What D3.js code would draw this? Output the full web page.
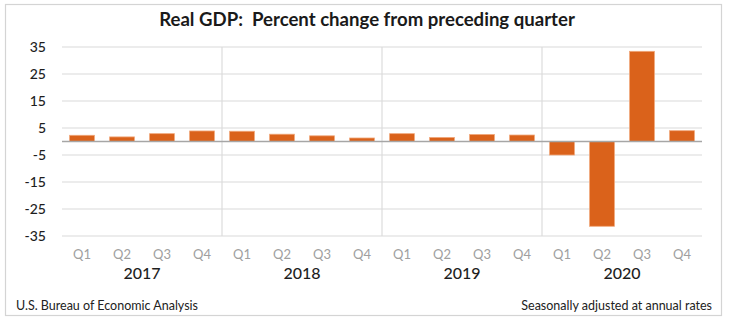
<!DOCTYPE html>
<html>
<head>
<meta charset="utf-8">
<script src="https://cdn.jsdelivr.net/npm/d3@7"></script>
<style>
  body { margin: 0; background: #fff; }
  svg text { font-family: Lato, "Open Sans", sans-serif; }
</style>
</head>
<body>
<div id="chart"></div>
<script>
// GDP quarterly change
var years = ["2017", "2018", "2019", "2020"];
var quarters = ["Q1", "Q2", "Q3", "Q4"];
var gdpChange = [2.3, 1.7, 2.9, 3.9, 3.8, 2.7, 2.1, 1.3, 2.9, 1.5, 2.6, 2.4, -5.0, -31.4, 33.4, 4.0];
var yTicks = [35, 25, 15, 5, -5, -15, -25, -35];

var width = 729, height = 321;
var plotLeft = 62, plotRight = 702, plotTop = 47, plotBottom = 236;

var svg = d3.select("#chart").append("svg")
    .attr("width", width)
    .attr("height", height);

// outer frame
svg.append("rect")
    .attr("x", 5.5).attr("y", 4.5)
    .attr("width", 716).attr("height", 311)
    .style("fill", "none")
    .style("stroke", "#d4d4d4")
    .style("stroke-width", 1.2);

var keys = [];
years.forEach(function(yr) {
    quarters.forEach(function(q) { keys.push(yr + "-" + q); });
});

var x = d3.scaleBand().domain(keys).range([plotLeft, plotRight]).paddingInner(0.38).paddingOuter(0.19);
var y = d3.scaleLinear().domain([-35, 35]).range([plotBottom, plotTop]);
var groupW = (plotRight - plotLeft) / 4;

// gridlines
svg.selectAll(".grid").data(yTicks).enter().append("line")
    .attr("x1", plotLeft).attr("x2", plotRight)
    .attr("y1", function(d) { return y(d); })
    .attr("y2", function(d) { return y(d); })
    .style("stroke", "#e6e6e6")
    .style("stroke-width", 1.5);

// year separators
svg.selectAll(".sep").data([1, 2, 3]).enter().append("line")
    .attr("x1", function(d) { return plotLeft + d * groupW; })
    .attr("x2", function(d) { return plotLeft + d * groupW; })
    .attr("y1", plotTop).attr("y2", plotBottom)
    .style("stroke", "#dcdcdc")
    .style("stroke-width", 1.2);

// y tick labels
svg.selectAll(".ylab").data(yTicks).enter().append("text")
    .attr("x", 46)
    .attr("y", function(d) { return y(d) + 5; })
    .attr("text-anchor", "end")
    .style("font-size", "14px")
    .style("font-weight", "500")
    .style("fill", "#1e1e1e")
    .text(function(d) { return d; });

// bars
svg.selectAll(".bar").data(gdpChange).enter().append("rect")
    .attr("x", function(d, i) { return x(keys[i]); })
    .attr("width", x.bandwidth())
    .attr("y", function(d) { return y(Math.max(0, d)); })
    .attr("height", function(d) { return Math.abs(y(d) - y(0)); })
    .style("fill", "#da621b")
    .style("stroke", "#f0a77a")
    .style("stroke-width", 0.8);

// zero line
svg.append("line")
    .attr("x1", plotLeft).attr("x2", plotRight)
    .attr("y1", y(0)).attr("y2", y(0))
    .style("stroke", "#a6a6a6")
    .style("stroke-width", 1.5);

// quarter labels
svg.selectAll(".qlab").data(keys).enter().append("text")
    .attr("x", function(d) { return x(d) + x.bandwidth() / 2; })
    .attr("y", 259)
    .attr("text-anchor", "middle")
    .style("font-size", "13px")
    .style("fill", "#a0a0a0")
    .text(function(d) { return d.split("-")[1]; });

// year labels
svg.selectAll(".yrlab").data(years).enter().append("text")
    .attr("x", function(d, i) { return plotLeft + (i + 0.5) * groupW; })
    .attr("y", 279)
    .attr("text-anchor", "middle")
    .style("font-size", "16px")
    .style("font-weight", "500")
    .style("fill", "#1e1e1e")
    .text(function(d) { return d; });

// title
svg.append("text")
    .attr("x", 367).attr("y", 26)
    .attr("text-anchor", "middle")
    .style("font-size", "18.6px")
    .style("font-weight", "bold")
    .style("fill", "#1a1a1a")
    .style("white-space", "pre")
    .text("Real GDP:  Percent change from preceding quarter");

// footer
svg.append("text")
    .attr("x", 16).attr("y", 310)
    .style("font-size", "12.5px")
    .style("fill", "#222")
    .text("U.S. Bureau of Economic Analysis");

svg.append("text")
    .attr("x", 712).attr("y", 310)
    .attr("text-anchor", "end")
    .style("font-size", "12.5px")
    .style("fill", "#222")
    .text("Seasonally adjusted at annual rates");
</script>
</body>
</html>
